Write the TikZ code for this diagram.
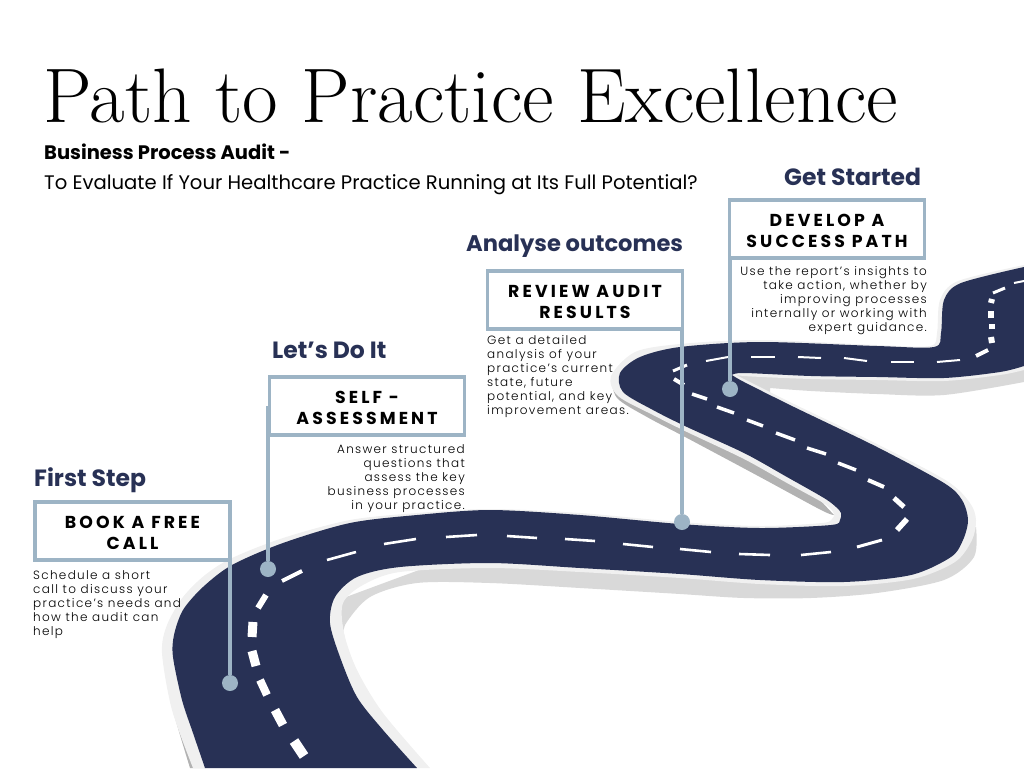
\documentclass[tikz,border=0pt]{standalone}
\usepackage{fontspec}
\usepackage{xcolor}
\setsansfont{Poppins}
\newfontfamily\capsfont{Poppins}[LetterSpace=18]
\newfontfamily\notefont{Poppins Light}[LetterSpace=11]
\definecolor{roadnavy}{HTML}{283155}
\definecolor{pinblue}{HTML}{9DB4C5}
\definecolor{kerblight}{HTML}{F0F0F0}
\definecolor{kerbgrey}{HTML}{D9D9D9}
\definecolor{kerbdark}{HTML}{B2B2B2}
\tikzset{
    stepbox/.style={draw=pinblue, line width=3.2pt, fill=white, minimum width=195pt, minimum height=58pt, inner sep=0pt, align=center, font=\capsfont\bfseries\fontsize{17.3}{21}\selectfont},
    heading/.style={text=roadnavy, anchor=base west, inner sep=0pt, font=\sffamily\bfseries\fontsize{23.5}{26}\selectfont},
    stepnote/.style={inner sep=0pt, text=black, font=\notefont\fontsize{12}{14}\selectfont},
    pindot/.style={circle, fill=pinblue, minimum size=16pt, inner sep=0pt},
    pinline/.style={draw=pinblue, line width=3.8pt},
    roadmark/.style={draw=white},
}
\begin{document}
\begin{tikzpicture}[x=1pt, y=-1pt]
    \useasboundingbox (0,0) rectangle (1024,768);
    \clip (0,0) rectangle (1024,768);
    % side of the road
    \fill[kerbdark] plot[smooth] coordinates {(170,700) (180,735) (190,768)} -- (205,768) -- (185,690) -- cycle;
    \fill[kerbdark] plot[smooth] coordinates {(611,376) (617,398) (647,417) (687,438) (760,477) (821,510) (834,515)} -- (820,500) -- (744,455) -- (650,410) -- (625,385) -- cycle;
    \fill[kerbgrey] plot[smooth] coordinates {(345,640) (345,625) (370,597) (417,583) (490,583) (580,588) (680,594) (744,598) (811,598) (877,593) (944,580) (974,557) (976,527)} -- (960,530) -- (500,540) -- (338,600) -- cycle;
    \fill[kerbgrey] (732,374) -- (770,396) -- plot[smooth] coordinates {(770,388) (811,391) (877,394) (944,395) (1024,382)} -- (1024,360) -- (740,365) -- cycle;
    \fill[kerblight] plot[smooth] coordinates {(193,768) (172,710) (162,653) (167,625) (183,597) (205,575) (232,558) (283,538) (350,520) (417,513) (490,509) (580,513) (680,522) (760,526) (822,523) (832,519) (834,514) (830,508) (820,501) (787,483) (744,459) (687,432) (653,415) (618,396) (611,376) (635,352) (680,344) (760,340) (877,345) (930,346) (937,333) (940,300) (958,281) (1024,265)} -- plot[smooth] coordinates {(1024,370) (1000,375) (944,381) (877,380) (811,379) (744,376) (732,373)} -- plot[smooth] coordinates {(732,373) (794,404) (877,444) (947,481) (970,503) (976,520) (972,540) (955,562) (913,579) (844,586) (760,584) (680,578) (580,572) (490,568) (400,572) (363,585) (343,603) (344,633) (357,670) (383,713) (430,768)} -- cycle;
    % road
    \fill[roadnavy] plot[smooth] coordinates {(205,768) (193,733) (182,700) (173,657) (174,635) (183,610) (203,587) (232,565) (283,543) (350,523) (417,515) (490,510) (580,515) (680,524) (760,528) (831,525) (840,520) (841,513) (836,507) (824,498) (787,477) (744,453) (687,427) (653,410) (623,392) (620,373) (640,357) (680,347) (760,342) (877,346) (934,347) (941,333) (944,300) (961,283) (1024,267)} -- plot[smooth] coordinates {(1024,366) (1000,372) (944,378) (877,377) (811,376) (744,373) (732,375)} -- plot[smooth] coordinates {(732,375) (744,382) (794,407) (877,447) (944,483) (962,500) (968,520) (963,540) (951,557) (911,575) (844,582) (760,580) (680,574) (580,568) (490,563) (400,567) (357,577) (335,597) (330,623) (340,657) (357,697) (383,730) (417,768)} -- cycle;
    % centre line
    \foreach \xa/\ya/\xb/\yb/\wd in {304/756/294/741/10, 283/725/275/710/9, 267/695/260/680/8, 256/666/252/651/9, 252/637/253/622/9, 258/608/266/595/6, 282/581/302/571/4, 327/560/356/552/2.6, 384/544/416/539/2.6, 446/537/477/535/2.6, 507/536/537/538/2.6, 565/539/595/541/2.6, 623/544/653/547/2.6, 680/549/711/552/2.6, 739/554/770/555/2.6, 801/555/831/552/2.6, 857/547/882/540/3, 897/530/907/519/5.5, 904/507/894/498/5, 884/487/868/480/4, 856/470/838/463/3.5, 826/454/807/448/3.5, 795/440/776/433/3.5, 763/426/747/420/3.5, 734/413/717/407/3.5, 707/399/692/394/3.5, 684/385/674/379/4, 687/365/673/371/3, 728/357/706/361/2, 751/357/775/357/2, 798/357/821/358/2, 844/358/867/361/2, 891/362/914/362/2, 937/362/960/360/2, 976/356/988/350/4, 992/343/991/337/6, 992/329/992/324/6, 991/318/991/311/6, 991/303/992/299/6, 993/293/1005/288/3, 1014/283/1024/281/2} {
        \draw[roadmark, line width=\wd pt] (\xa,\ya) -- (\xb,\yb);
    }
    % title
    \node[anchor=base west, inner sep=0pt, font=\fontsize{77.3}{80}\selectfont] (pagetitle) at (43,122) {Path to Practice Excellence};
    \node[anchor=base west, inner sep=0pt, font=\sffamily\bfseries\fontsize{19.5}{22}\selectfont] (audittitle) at (44,159) {Business Process Audit -};
    \node[anchor=base west, inner sep=0pt, font=\sffamily\fontsize{19.6}{22}\selectfont] (auditquestion) at (44,189) {To Evaluate If Your Healthcare Practice Running at Its Full Potential?};
    % steps
    \node[pindot] (bookdot) at (230,683) {};
    \node[pindot] (selfdot) at (268,569) {};
    \node[pindot] (reviewdot) at (682,522) {};
    \node[pindot] (developdot) at (730,389) {};
    \node[stepbox] (bookbox) at (132.5,531) {\rule{0pt}{16pt}BOOK A FREE\\CALL};
    \node[stepbox] (selfbox) at (367,406) {\rule{0pt}{16pt}SELF -\\ASSESSMENT};
    \node[stepbox] (reviewbox) at (585,300) {\rule{0pt}{16pt}REVIEW AUDIT\\RESULTS};
    \node[stepbox] (developbox) at (827,229) {\rule{0pt}{16pt}DEVELOP A\\SUCCESS PATH};
    \draw[pinline] (bookbox.south -| bookdot) -- (bookdot);
    \draw[pinline] (selfbox.center -| selfdot) -- (selfdot);
    \draw[pinline] (reviewbox.south -| reviewdot) -- (reviewdot);
    \draw[pinline] (developbox.south -| developdot) -- (developdot);
    \node[heading] (firststep) at (34,486) {First Step};
    \node[heading] (letsdoit) at (272,358) {Let’s Do It};
    \node[heading, font=\sffamily\bfseries\fontsize{22.6}{26}\selectfont] (analyse) at (466,251) {Analyse outcomes};
    \node[heading] (getstarted) at (784,185) {Get Started};
    \node[stepnote, anchor=north west, align=left] (booknote) at (33,570) {Schedule a short\\call to discuss your\\practice’s needs and\\how the audit can\\help};
    \node[stepnote, anchor=north east, align=right] (selfnote) at (465,444) {Answer structured\\questions that\\assess the key\\business processes\\in your practice.};
    \node[stepnote, anchor=north west, align=left] (reviewnote) at (487,335) {Get a detailed\\analysis of your\\practice’s current\\state, future\\potential, and key\\improvement areas.};
    \node[stepnote, anchor=north east, align=right] (developnote) at (927,266) {Use the report’s insights to\\take action, whether by\\improving processes\\internally or working with\\expert guidance.};
\end{tikzpicture}
\end{document}
